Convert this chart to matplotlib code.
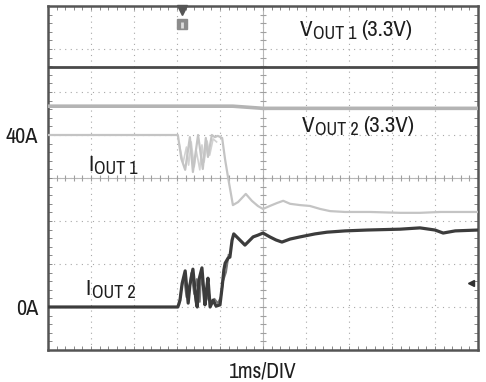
import numpy as np
import matplotlib
matplotlib.use("Agg")
import matplotlib.pyplot as plt
from matplotlib import font_manager
from matplotlib.transforms import offset_copy

names = {f.name for f in font_manager.fontManager.ttflist}
FONT = "Archivo Narrow" if "Archivo Narrow" in names else "Liberation Sans"
plt.rcParams["font.family"] = [FONT, "DejaVu Sans"]

# ---- data (time in ms, current in A; voltage traces placed at their screen level) ----
iout1_t = [0, 3.02, 3.10, 3.19, 3.30, 3.37, 3.49, 3.60, 3.67, 3.72, 3.81,
           3.88, 3.95, 4.05, 4.12, 4.19, 4.26, 4.30, 4.42, 4.60, 4.74, 4.88, 5.00,
           5.16, 5.33, 5.47, 5.63, 5.86, 6.09, 6.33, 6.56, 6.91, 7.49, 8.19, 8.65,
           9.12, 9.58, 10.0]
iout1_a = [40.0, 40.0, 34.5, 31.9, 39.5, 31.4, 40.0, 32.1, 39.3, 34.9, 40.0,
           39.5, 39.8, 39.3, 34.2, 30.0, 26.0, 23.7, 24.4, 26.3, 24.7, 23.5, 22.8,
           23.5, 24.2, 24.7, 24.0, 23.7, 23.5, 22.8, 22.3, 22.1, 22.1, 21.9, 21.9,
           22.1, 22.1, 22.1]
iout1_alt_t = [3.05, 3.14, 3.22, 3.27, 3.33, 3.40, 3.45, 3.53, 3.58, 3.63, 3.70, 3.76, 3.84, 3.92]
iout1_alt_a = [38.0, 33.5, 37.2, 33.0, 38.4, 32.6, 36.3, 31.9, 37.7, 33.7, 38.6, 35.3, 39.1, 38.4]

iout2_t = [0, 3.02, 3.07, 3.12, 3.19, 3.26, 3.30, 3.37, 3.44, 3.47, 3.51, 3.58, 3.63, 3.65,
           3.70, 3.72, 3.77, 3.84, 3.91, 4.00, 4.05, 4.09, 4.12, 4.19, 4.23, 4.28, 4.32,
           4.42, 4.58, 4.70, 4.77, 4.88, 5.00, 5.16, 5.30, 5.44, 5.63, 5.86, 6.21,
           6.49, 6.91, 7.42, 8.19, 8.65, 9.00, 9.19, 9.47, 10.0]
iout2_a = [0.0, 0.0, 1.6, 5.5, 8.4, 0.9, 5.1, 8.8, 1.6, 0.0, 6.3, 9.1, 2.8, 0.5,
           5.1, 6.7, 0.0, 1.6, 0.2, 0.5, 4.7, 8.6, 10.2, 11.4, 11.6, 15.5, 17.0,
           16.0, 14.4, 15.6, 16.3, 16.7, 17.2, 16.3, 15.6, 15.1, 15.8, 16.3, 17.0,
           17.4, 17.7, 17.9, 18.1, 18.4, 17.9, 17.2, 17.7, 17.9]
iout2_alt_t = [3.05, 3.10, 3.16, 3.22, 3.28, 3.33, 3.40, 3.46, 3.53, 3.56, 3.61, 3.68,
               3.74, 3.80, 3.87, 3.95, 4.02, 4.07, 4.14, 4.20]
iout2_alt_a = [0.5, 4.2, 7.0, 2.3, 3.5, 7.9, 3.0, 6.5, 1.2, 7.4, 4.4, 1.4,
               3.3, 0.7, 1.9, 0.9, 2.3, 6.0, 8.1, 12.1]

vout1_t = [0, 10.0]
vout1_lvl = [55.9, 55.9]
vout2_t = [0, 4.3, 5.0, 10.0]
vout2_lvl = [46.7, 46.7, 46.2, 46.2]

ytick_vals = [0, 40]
ytick_labels = ["0A", "40A"]

# ---- figure ----
fig = plt.figure(figsize=(4.86, 3.82), dpi=100)
ax = fig.add_axes([48/486, 32/382, 430/486, 344/382])
ax.set_xlim(0, 10)
ax.set_ylim(-10, 70)

# grid
gcol = "#a8a8a8"
for xv in range(1, 10):
    ax.axvline(xv, color=gcol, lw=0.8, ls=(0, (1, 4)), zorder=1)
for yv in range(-10, 70, 10):
    ax.axhline(yv, color=gcol, lw=0.8, ls=(0, (1, 4)), zorder=1)
ax.axvline(5, color="#b8b8b8", lw=0.8, zorder=1)
ax.axhline(30, color="#b8b8b8", lw=0.8, zorder=1)
sub_x = np.arange(0, 10.001, 0.2)
sub_y = np.arange(-10, 70.001, 2)
ax.plot(sub_x, np.full_like(sub_x, 30), ls="none", marker="|", ms=5, mew=0.8, color="#a0a0a0", zorder=1)
ax.plot(np.full_like(sub_y, 5), sub_y, ls="none", marker="_", ms=5, mew=0.8, color="#a0a0a0", zorder=1)

# traces
ax.plot(vout1_t, vout1_lvl, color="#4a4a4a", lw=2.0, zorder=3)
ax.plot(vout2_t, vout2_lvl, color="#b4b4b4", lw=2.6, zorder=3)
ax.plot(iout1_alt_t, iout1_alt_a, color="#d2d2d2", lw=1.2, zorder=3)
ax.plot(iout1_t, iout1_a, color="#c4c4c4", lw=1.6, zorder=3)
ax.plot(iout2_alt_t, iout2_alt_a, color="#777777", lw=1.4, zorder=4)
ax.plot(iout2_t, iout2_a, color="#3c3c3c", lw=2.3, zorder=4)

# markers (trigger & reference)
ax.plot([3.12], [69.0], marker="v", ms=7, color="#555555", clip_on=False, zorder=5)
ax.plot([3.12], [65.8], marker="s", ms=6.5, color="#8c8c8c", clip_on=False, zorder=5)
ax.plot([3.12], [65.6], marker="|", ms=4, mew=2, color="#dddddd", clip_on=False, zorder=6)
ax.plot([9.84], [5.6], marker="<", ms=5, color="#303030", zorder=5)

# labels with subscripts
fig.canvas.draw()
renderer = fig.canvas.get_renderer()
tcol = "#1e1e1e"


def sub_label(x, y, main, sub, tail, fs=16.5, fs_sub=13, drop=3):
    t1 = ax.text(x, y, main, fontsize=fs, color=tcol, va="baseline", ha="left")
    w1 = t1.get_window_extent(renderer).width
    tr2 = offset_copy(ax.transData, fig=fig, x=w1 + 0.5, y=-drop, units="dots")
    t2 = ax.text(x, y, sub, fontsize=fs_sub, color=tcol, va="baseline", ha="left", transform=tr2)
    if tail:
        w2 = t2.get_window_extent(renderer).width
        tr3 = offset_copy(ax.transData, fig=fig, x=w1 + w2 + 5, y=0, units="dots")
        ax.text(x, y, tail, fontsize=fs, color=tcol, va="baseline", ha="left", transform=tr3)


sub_label(5.86, 63.0, "V", "OUT 1", "(3.3V)")
sub_label(5.91, 40.8, "V", "OUT 2", "(3.3V)")
sub_label(0.93, 31.6, "I", "OUT 1", "")
sub_label(0.88, 2.9, "I", "OUT 2", "")

# axes styling
ax.set_yticks(ytick_vals)
ax.set_yticklabels(ytick_labels, fontsize=16, color=tcol)
ax.set_xticks([])
ax.tick_params(axis="y", length=0, pad=7)
ax.set_yticks(np.arange(-10, 70.001, 2), minor=True)
ax.set_xticks(np.arange(0, 10.001, 0.2), minor=True)
ax.tick_params(which="minor", direction="in", length=3, width=0.7, color="#888888",
               top=True, right=True, bottom=True, left=True)
ax.set_xlabel("1ms/DIV", fontsize=15.5, color=tcol, labelpad=5)
for s in ax.spines.values():
    s.set_color("#555555")
    s.set_linewidth(1.8)

fig.savefig("out.png", dpi=100)
